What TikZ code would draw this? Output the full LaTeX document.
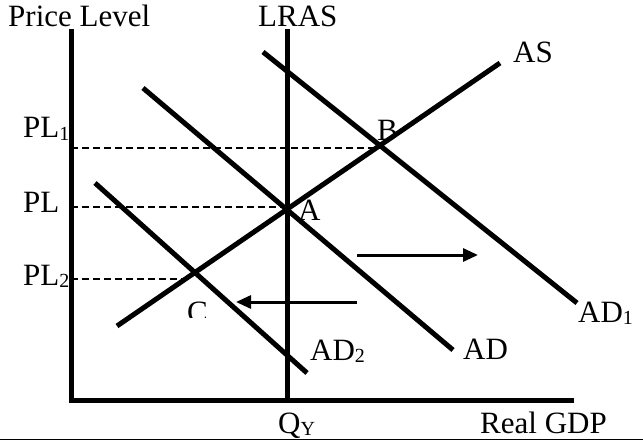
\documentclass[tikz,border=0pt]{standalone}
\usepackage{fontspec}
\setmainfont{Liberation Serif}
\usetikzlibrary{arrows.meta}
\newcommand{\lowsub}[1]{\raisebox{-2.5pt}{\fontsize{20}{24}\selectfont #1}}
\begin{document}
\begin{tikzpicture}[x=1pt,y=-1pt,
  thick line/.style={line width=5pt},
  guide/.style={line width=1.4pt,dash pattern=on 7pt off 4pt},
  shift arrow/.style={line width=3pt,-{Triangle[length=15pt,width=13pt]}},
  lbl/.style={anchor=base west,inner sep=0pt,font=\fontsize{31}{37}\selectfont}]
\useasboundingbox (0,0) rectangle (643,441);
% axes
\coordinate (ytop) at (71,29);
\coordinate (origin) at (71,400);
\coordinate (xend) at (574,400);
\draw[thick line,line join=miter] (ytop) -- (origin) -- (xend);
% LRAS
\coordinate (lrasT) at (287,29);
\coordinate (lrasB) at (287,400);
\draw[thick line] (lrasT) -- (lrasB);
% AS
\coordinate (asL) at (117,326);
\coordinate (asR) at (500,63);
\draw[thick line] (asL) -- (asR);
% AD
\coordinate (adT) at (143,88);
\coordinate (adB) at (453,350);
\draw[thick line] (adT) -- (adB);
% AD1
\coordinate (ad1T) at (263,52);
\coordinate (ad1B) at (577,303);
\draw[thick line] (ad1T) -- (ad1B);
% AD2
\coordinate (ad2T) at (95,183);
\coordinate (ad2B) at (307,373);
\draw[thick line] (ad2T) -- (ad2B);
% guides
\coordinate (g1L) at (71,148); \coordinate (B) at (381,148);
\coordinate (g0L) at (71,207); \coordinate (A) at (287,207);
\coordinate (g2L) at (71,279); \coordinate (Cg) at (188,279);
\draw[guide] (g1L) -- (B);
\draw[guide] (g0L) -- (A);
\draw[guide] (g2L) -- (Cg);
% shift arrows
\coordinate (r1) at (357,255); \coordinate (r2) at (478,255);
\coordinate (l1) at (357,302); \coordinate (l2) at (236,302);
\draw[shift arrow] (r1) -- (r2);
\draw[shift arrow] (l1) -- (l2);
% labels
\node[lbl] (tPL) at (8,27) {Price Level};
\node[lbl] (tLRAS) at (258,27) {LRAS};
\node[lbl] (tAS) at (513,63) {AS};
\node[lbl] (tPL1) at (23,138) {PL\lowsub{1}};
\node[lbl] (tPL0) at (23,212) {PL};
\node[lbl] (tPL2) at (23,285) {PL\lowsub{2}};
\node[lbl] (tB) at (377,141) {B};
\node[lbl] (tA) at (298,221) {A};
\begin{scope}
\clip (170,290) rectangle (240,317);
\node[lbl] (tC) at (187,322) {C};
\end{scope}
\node[lbl] (tAD2) at (310,360) {AD\lowsub{2}};
\node[lbl] (tAD) at (463,359) {AD};
\node[lbl] (tAD1) at (578,322) {AD\lowsub{1}};
\node[lbl] (tQY) at (278,433) {Q\lowsub{Y}};
\node[lbl] (tGDP) at (480,433) {Real GDP};
% bottom rule
\coordinate (bL) at (0,439.5); \coordinate (bR) at (643,439.5);
\draw[line width=1.5pt] (bL) -- (bR);
\end{tikzpicture}
\end{document}
